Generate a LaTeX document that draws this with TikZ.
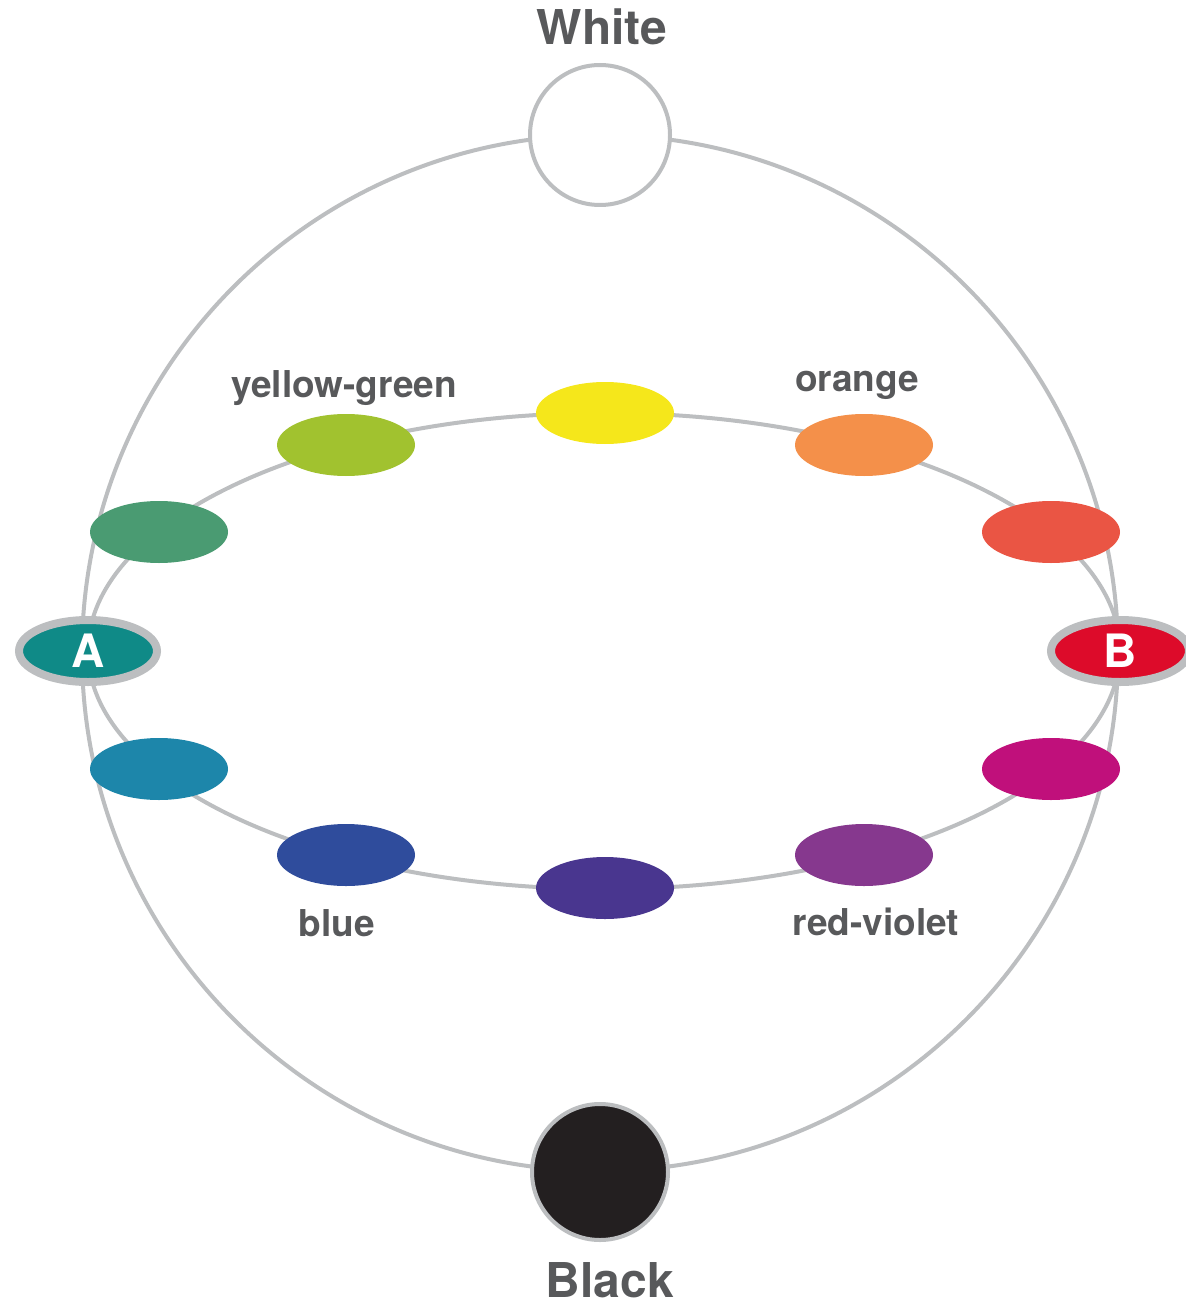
\documentclass[tikz,border=0pt]{standalone}
\usepackage{fontspec}
\setmainfont{TeX Gyre Heros}
\usetikzlibrary{shapes.geometric}
\definecolor{linegray}{HTML}{BCBEC0}
\definecolor{txtgray}{HTML}{58595B}
\definecolor{cyellow}{HTML}{F5E71B}
\definecolor{corange}{HTML}{F4904A}
\definecolor{credorange}{HTML}{EA5544}
\definecolor{cred}{HTML}{DD0B2A}
\definecolor{cmagenta}{HTML}{C0107B}
\definecolor{credviolet}{HTML}{86388E}
\definecolor{cviolet}{HTML}{49368F}
\definecolor{cblue}{HTML}{2F4C9C}
\definecolor{ccyan}{HTML}{1D86AA}
\definecolor{cteal}{HTML}{0F8A87}
\definecolor{cgreen}{HTML}{4A9B72}
\definecolor{cyg}{HTML}{A1C22F}
\definecolor{cblack}{HTML}{231F20}
\begin{document}
\begin{tikzpicture}[x=1pt,y=-1pt,
  ring/.style={draw=linegray,line width=4pt},
  hue/.style={ellipse,minimum width=138pt,minimum height=62pt,inner sep=0pt,outer sep=0pt},
  marked/.style={hue,draw=linegray,line width=8pt,text=white,font=\bfseries\fontsize{46}{50}\selectfont},
  pole/.style={circle,draw=linegray,line width=4pt,inner sep=0pt,outer sep=0pt},
  biglabel/.style={anchor=base,inner sep=0pt,text=txtgray,font=\bfseries\fontsize{48}{52}\selectfont},
  smalllabel/.style={anchor=base,inner sep=0pt,text=txtgray,font=\bfseries\fontsize{37}{42}\selectfont}]
\useasboundingbox (0,0) rectangle (1185,1305);
% outer sphere and hue ring
\draw[ring] (600,653) circle[radius=518pt];
\draw[ring] (604,651) ellipse[x radius=516pt,y radius=238pt];
% poles
\node[pole,fill=white,minimum size=140pt] (white) at (600,135) {};
\node[pole,fill=cblack,minimum size=136pt] (black) at (600,1172) {};
% hue ellipses (30 degree spacing)
\node[hue,fill=cyellow] (yellow) at (605,413) {};
\node[hue,fill=corange] (orange) at (864,445) {};
\node[hue,fill=credorange] (redorange) at (1051,532) {};
\node[marked,fill=cred] (B) at (1120,651) {B};
\node[hue,fill=cmagenta] (magenta) at (1051,769) {};
\node[hue,fill=credviolet] (redviolet) at (864,855) {};
\node[hue,fill=cviolet] (violet) at (605,888) {};
\node[hue,fill=cblue] (blue) at (346,855) {};
\node[hue,fill=ccyan] (cyanblue) at (159,769) {};
\node[marked,fill=cteal] (A) at (88,651) {A};
\node[hue,fill=cgreen] (green) at (159,532) {};
\node[hue,fill=cyg] (yellowgreen) at (346,445) {};
% labels
\node[biglabel] (lwhite) at (602,45) {White};
\node[biglabel] (lblack) at (610,1297) {Black};
\node[smalllabel] (lyg) at (344,397) {yellow-green};
\node[smalllabel] (lorange) at (857,391) {orange};
\node[smalllabel] (lblue) at (337,936) {blue};
\node[smalllabel] (lrv) at (876,935) {red-violet};
\end{tikzpicture}
\end{document}
